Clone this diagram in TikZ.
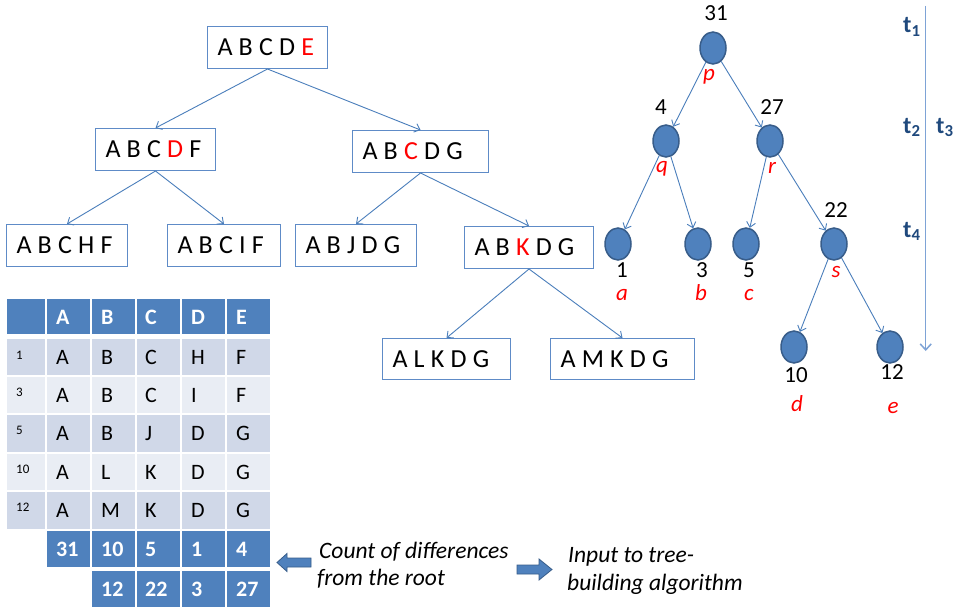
\documentclass[tikz,border=0pt]{standalone}
\usepackage{fontspec}
\setmainfont{Carlito}
\usetikzlibrary{arrows.meta,shapes.geometric}
\definecolor{boxline}{HTML}{5E8BC7}
\definecolor{edgecol}{HTML}{4A7EBB}
\definecolor{nodefill}{HTML}{4F81BD}
\definecolor{nodeline}{HTML}{385D8A}
\definecolor{axiscol}{HTML}{7EA3D6}
\definecolor{tcol}{HTML}{1F497D}
\definecolor{hdr}{HTML}{4F81BD}
\definecolor{rowd}{HTML}{D0D8E8}
\definecolor{rowl}{HTML}{E9EDF4}
\newcommand\gp{\hspace{6.2pt}}
\newcommand\bxt[2]{\makebox[#1][l]{#2}}
\begin{document}
\begin{tikzpicture}[x=1pt,y=-1pt,
  seqbox/.style={draw=boxline, line width=1pt, anchor=north west, minimum height=42pt, inner ysep=0pt, inner xsep=10pt, font=\fontsize{26}{30}\selectfont},
  link/.style={draw=edgecol, line width=0.9pt, -{Straight Barb[length=5pt,width=9pt]}},
  tnode/.style={ellipse, fill=nodefill, draw=nodeline, line width=1.5pt, minimum width=26pt, minimum height=32pt, inner sep=0pt},
  num/.style={anchor=base, font=\fontsize{23}{25}\selectfont, inner sep=0pt},
  lab/.style={anchor=base, font=\fontsize{23}{25}\selectfont\itshape, text=red, inner sep=0pt},
  tl/.style={anchor=base west, font=\fontsize{24}{26}\selectfont\bfseries, text=tcol, inner sep=0pt},
  celltxt/.style={anchor=base west, inner sep=0pt, font=\fontsize{22}{24}\selectfont},
  hdrtxt/.style={anchor=base west, inner sep=0pt, text=white, font=\fontsize{22}{24}\selectfont\bfseries},
  smalltxt/.style={anchor=base west, inner sep=0pt, font=\fontsize{13}{15}\selectfont},
  note/.style={anchor=base west, inner sep=0pt, font=\fontsize{23.5}{27}\selectfont\itshape},
  blockarrow/.style={fill=nodefill, draw=nodeline, line width=0.8pt},
]
\useasboundingbox (0,0) rectangle (955,607);
\fill[white] (0,0) rectangle (955,607);

% ---------- left tree ----------
\node[seqbox] (root) at (207,26) {\bxt{100pt}{A\gp B\gp C\gp D\gp\textcolor{red}{E}}};
\node[seqbox] (n1) at (95,128) {\bxt{100pt}{A\gp B\gp C\gp\textcolor{red}{D}\gp F}};
\node[seqbox] (n2) at (352,130) {\bxt{116pt}{A\gp B\gp\textcolor{red}{C}\gp D\gp G}};
\node[seqbox] (n11) at (6,224) {\bxt{101pt}{A\gp B\gp C\gp H\gp F}};
\node[seqbox] (n12) at (167,224) {\bxt{93pt}{A\gp B\gp C\gp I\gp F}};
\node[seqbox] (n21) at (295,224) {\bxt{101pt}{A\gp B\gp J\gp D\gp G}};
\node[seqbox] (n22) at (464,226) {\bxt{109pt}{A\gp B\gp\textcolor{red}{K}\gp D\gp G}};
\node[seqbox, minimum height=41pt] (n221) at (382,338) {\bxt{108pt}{A\gp L\gp K\gp D\gp G}};
\node[seqbox, minimum height=41pt] (n222) at (550,338) {\bxt{124pt}{A\gp M\gp K\gp D\gp G}};

\draw[link] (root.south) -- (n1.north);
\draw[link] (root.south) -- (n2.north);
\draw[link] (n1.south) -- (n11.north);
\draw[link] (n1.south) -- (n12.north);
\draw[link] (n2.south) -- (n21.north);
\draw[link] (n2.south) -- (n22.north);
\draw[link] (n22.south) -- (n221.north);
\draw[link] (n22.south) -- (n222.north);

% ---------- right tree ----------
\node[tnode] (p) at (713,48) {};
\node[tnode] (q) at (666,141) {};
\node[tnode] (r) at (770,141) {};
\node[tnode] (a) at (618,244) {};
\node[tnode] (b) at (698,244) {};
\node[tnode] (c) at (746,244) {};
\node[tnode] (s) at (834,244) {};
\node[tnode] (d) at (794,347) {};
\node[tnode] (e) at (890,347) {};

\draw[link] (p) -- (q);
\draw[link] (p) -- (r);
\draw[link] (q) -- (a);
\draw[link] (q) -- (b);
\draw[link] (r) -- (c);
\draw[link] (r) -- (s);
\draw[link] (s) -- (d);
\draw[link] (s) -- (e);

\node[num] (np) at (716,21) {31};
\node[num] (nq) at (661,114) {4};
\node[num] (nr) at (772,114) {27};
\node[num] (ns) at (836,217) {22};
\node[num] (na) at (622,277) {1};
\node[num] (nb) at (702,277) {3};
\node[num] (nc) at (749,277) {5};
\node[num] (nd) at (796,382) {10};
\node[num] (ne) at (892,379) {12};

\node[lab] (lp) at (709,81) {p};
\node[lab] (lq) at (662,172.5) {q};
\node[lab] (lr) at (772,173) {r};
\node[lab] (la) at (622,300) {a};
\node[lab] (lb) at (701,300) {b};
\node[lab] (lc) at (749,300) {c};
\node[lab] (ls) at (836,277) {s};
\node[lab] (ld) at (797,411) {d};
\node[lab] (le) at (893,413) {e};

% ---------- time axis ----------
\coordinate (ax0) at (925.7,6);
\coordinate (ax1) at (925.7,351);
\draw[draw=axiscol, line width=1.5pt, -{Straight Barb[length=6pt,width=11pt]}] (ax0) -- (ax1);
\node[tl] (t1) at (903,33) {t\textsubscript{1}};
\node[tl] (t2) at (903,133) {t\textsubscript{2}};
\node[tl] (t3) at (936,133) {t\textsubscript{3}};
\node[tl] (t4) at (903,237) {t\textsubscript{4}};

% ---------- table ----------
\fill[hdr] (7,299) rectangle (45,334);
\foreach \cx in {47,91.5,136.5,181.5,226.5} \fill[hdr] (\cx,299) rectangle ({\cx+43},334);
\foreach \cx/\v [count=\j] in {56/A,101/B,145/C,191/D,236/E}
  \node[hdrtxt] (h\j) at (\cx,324) {\v};

\foreach \top/\bot/\col/\lab/\va/\vb/\vc/\vd/\ve [count=\i] in
  {339/375/rowd/1/A/B/C/H/F, 376.5/413/rowl/3/A/B/C/I/F, 414.5/452/rowd/5/A/B/J/D/G,
   453.5/490/rowl/10/A/L/K/D/G, 491.5/529/rowd/12/A/M/K/D/G} {
  \fill[\col] (7,\top) rectangle (45,\bot);
  \foreach \cx in {47,91.5,136.5,181.5,226.5} \fill[\col] (\cx,\top) rectangle ({\cx+43},\bot);
  \node[smalltxt] (lab\i) at (16,{\top+20}) {\lab};
  \foreach \cx/\v [count=\j] in {56/\va,101/\vb,145/\vc,191/\vd,236/\ve}
    \node[celltxt] (c\i-\j) at (\cx,{(\top+\bot)/2+7.5}) {\v};
}

\foreach \cx in {47,91.5,136.5,181.5,226.5} \fill[hdr] (\cx,531) rectangle ({\cx+43},567);
\foreach \cx in {91.5,136.5,181.5,226.5} \fill[hdr] (\cx,571) rectangle ({\cx+43},607);
\foreach \cx/\v [count=\j] in {56/31,101/10,145/5,191/1,236/4}
  \node[hdrtxt] (s\j) at (\cx,556.5) {\v};
\foreach \cx/\v [count=\j] in {101/12,145/22,191/3,236/27}
  \node[hdrtxt] (u\j) at (\cx,596.5) {\v};

% ---------- notes ----------
\draw[blockarrow] (277,562.5) -- (287,553.5) -- (287,558) -- (311,558) -- (311,567) -- (287,567) -- (287,571.5) -- cycle;
\draw[blockarrow] (517,565) -- (539,565) -- (539,559) -- (552,569.5) -- (539,580) -- (539,574) -- (517,574) -- cycle;
\node[note] (m1) at (319,558) {Count of differences};
\node[note] (m2) at (317,585) {from the root};
\node[note] (m3) at (568,562) {Input to tree-};
\node[note] (m4) at (567,590) {building algorithm};
\end{tikzpicture}
\end{document}
